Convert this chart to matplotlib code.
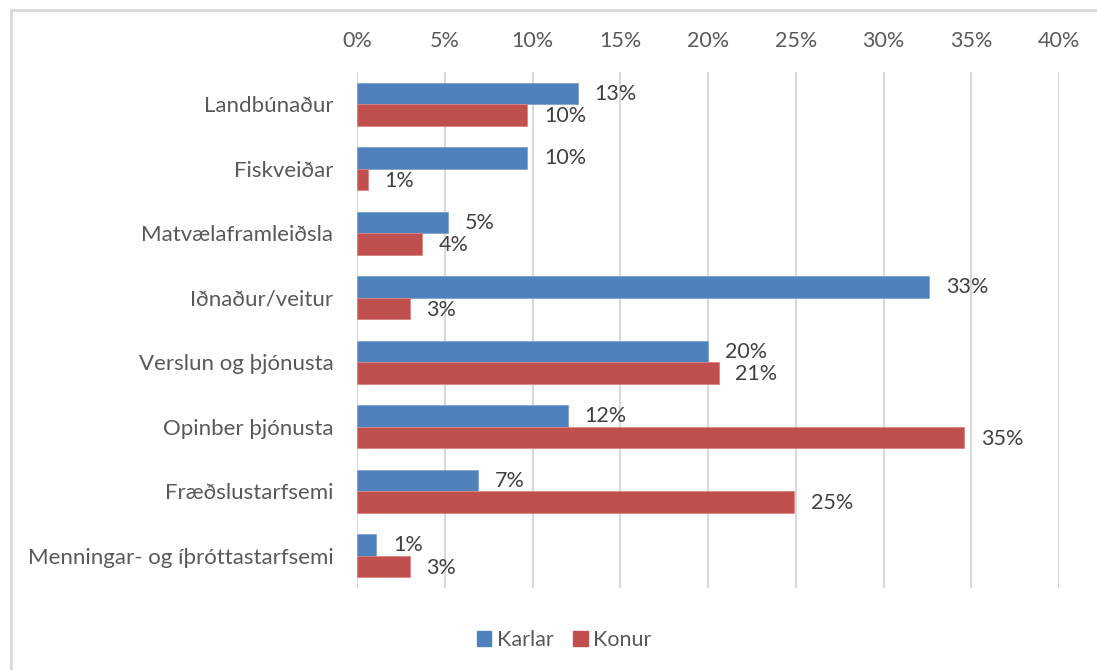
import matplotlib
matplotlib.use("Agg")
import matplotlib.pyplot as plt
from matplotlib.lines import Line2D
from matplotlib.patches import Patch
import numpy as np

plt.rcParams['font.family'] = ['Lato', 'DejaVu Sans']

# Gögn
flokkar = ["Landbúnaður", "Fiskveiðar", "Matvælaframleiðsla", "Iðnaður/veitur",
           "Verslun og þjónusta", "Opinber þjónusta", "Fræðslustarfsemi",
           "Menningar- og íþróttastarfsemi"]
karlar = [12.6, 9.7, 5.2, 32.6, 20.0, 12.0, 6.9, 1.1]
konur = [9.7, 0.6, 3.7, 3.0, 20.6, 34.6, 24.9, 3.0]
x_ticks = [0, 5, 10, 15, 20, 25, 30, 35, 40]

blar = "#4F81BD"
raudur = "#C0504D"
grar_texti = "#595959"
dokkur_texti = "#404040"

fig = plt.figure(figsize=(10.97, 6.70), dpi=100)
ax = fig.add_axes([357 / 1097, 1 - 588 / 670, (1059 - 357) / 1097, (588 - 72) / 670])

y = np.arange(len(flokkar))
h = 0.33
ax.barh(y - h / 2, karlar, height=h, color=blar, edgecolor="#7FA3D1", linewidth=0.6, zorder=3)
ax.barh(y + h / 2, konur, height=h, color=raudur, edgecolor="#D98583", linewidth=0.6, zorder=3)

# gildismerki
for i in range(len(flokkar)):
    ax.annotate(f"{karlar[i]:.0f}%", (karlar[i], y[i] - h / 2), xytext=(12, 0),
                textcoords="offset points", va="center", ha="left",
                fontsize=15.5, color=dokkur_texti)
    ax.annotate(f"{konur[i]:.0f}%", (konur[i], y[i] + h / 2), xytext=(12, -1),
                textcoords="offset points", va="center", ha="left",
                fontsize=15.5, color=dokkur_texti)

ax.set_xlim(0, 40)
ax.set_ylim(len(flokkar) - 0.5, -0.5)
ax.set_xticks(x_ticks)
ax.set_xticklabels([f"{t}%" for t in x_ticks])
ax.xaxis.tick_top()
ax.set_yticks(y)
ax.set_yticklabels(flokkar)
ax.tick_params(axis="x", length=0, pad=15, labelsize=15.5, labelcolor=grar_texti)
ax.tick_params(axis="y", length=0, pad=17, labelsize=16, labelcolor=grar_texti)
ax.grid(axis="x", color="#D9D9D9", linewidth=1.5, zorder=0)
for s in ax.spines.values():
    s.set_visible(False)

# rammi um myndina (efri og vinstri brún sjást)
fig.add_artist(Line2D([11 / 1097, 1.0], [1 - 10 / 670, 1 - 10 / 670],
                      transform=fig.transFigure, color="#D9D9D9", linewidth=2))
fig.add_artist(Line2D([11 / 1097, 11 / 1097], [0, 1 - 10 / 670],
                      transform=fig.transFigure, color="#D9D9D9", linewidth=2))

handles = [Patch(color=blar, label="Karlar"), Patch(color=raudur, label="Konur")]
leg = fig.legend(handles=handles, loc="center", bbox_to_anchor=(564 / 1097, 1 - 640 / 670),
                 ncol=2, frameon=False, fontsize=15.5, handlelength=0.68, handleheight=0.68,
                 handletextpad=0.25, columnspacing=0.9)
for t in leg.get_texts():
    t.set_color(grar_texti)

fig.savefig("out.png", dpi=100)
